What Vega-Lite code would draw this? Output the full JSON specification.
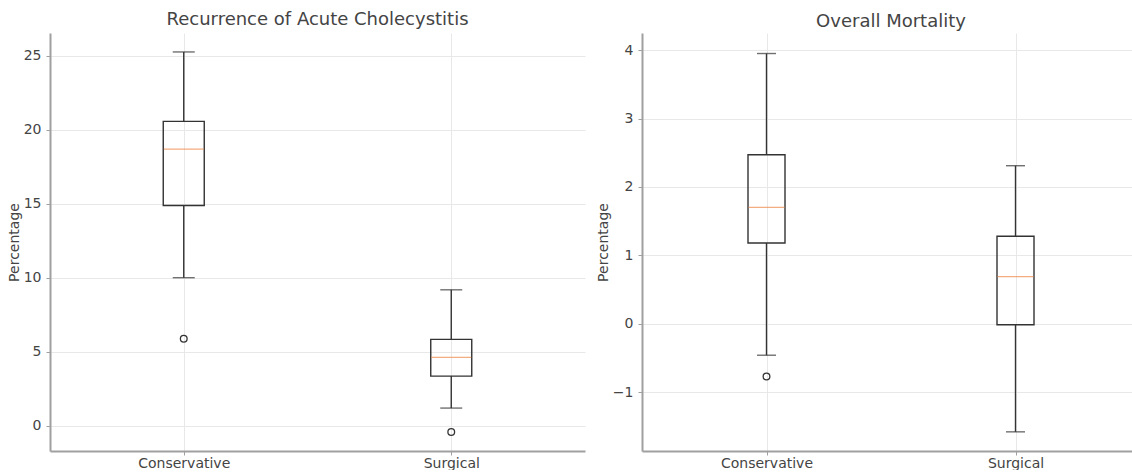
{
  "$schema": "https://vega.github.io/schema/vega-lite/v6.json",
  "padding": {"left": 7, "top": 11, "right": 0, "bottom": 0},
  "background": "white",
  "datasets": {
    "boxes": [
      {"panel": "A", "group": "Conservative", "lower": 10.02, "q1": 14.9, "median": 18.71, "q3": 20.58, "upper": 25.27},
      {"panel": "A", "group": "Surgical", "lower": 1.21, "q1": 3.37, "median": 4.63, "q3": 5.85, "upper": 9.2},
      {"panel": "B", "group": "Conservative", "lower": -0.46, "q1": 1.18, "median": 1.7, "q3": 2.47, "upper": 3.95},
      {"panel": "B", "group": "Surgical", "lower": -1.58, "q1": -0.015, "median": 0.69, "q3": 1.28, "upper": 2.31}
    ],
    "outliers": [
      {"panel": "A", "group": "Conservative", "value": 5.89},
      {"panel": "A", "group": "Surgical", "value": -0.41},
      {"panel": "B", "group": "Conservative", "value": -0.77}
    ]
  },
  "hconcat": [
    {
      "width": 535,
      "height": 418,
      "title": {"text": "Recurrence of Acute Cholecystitis", "offset": 4},
      "data": {"name": "boxes"},
      "transform": [{"filter": "datum.panel === 'A'"}],
      "encoding": {
        "x": {"field": "group", "type": "nominal", "sort": ["Conservative", "Surgical"], "scale": {"type": "point", "padding": 0.5}, "axis": {"title": null, "labelAngle": 0, "grid": true, "labelPadding": 1}}
      },
      "layer": [
        {
          "mark": {"type": "rule", "color": "#333", "strokeWidth": 1.4},
          "encoding": {
            "y": {"field": "lower", "type": "quantitative", "scale": {"domain": [-1.69, 26.55], "nice": false, "zero": false}, "axis": {"title": "Percentage", "values": [0, 5, 10, 15, 20, 25], "format": "d"}},
            "y2": {"field": "q1"}
          }
        },
        {
          "mark": {"type": "rule", "color": "#333", "strokeWidth": 1.4},
          "encoding": {"y": {"field": "q3", "type": "quantitative"}, "y2": {"field": "upper"}}
        },
        {
          "mark": {"type": "tick", "color": "#333", "size": 22, "thickness": 1.4, "orient": "horizontal"},
          "encoding": {"y": {"field": "lower", "type": "quantitative"}}
        },
        {
          "mark": {"type": "tick", "color": "#333", "size": 22, "thickness": 1.4, "orient": "horizontal"},
          "encoding": {"y": {"field": "upper", "type": "quantitative"}}
        },
        {
          "mark": {"type": "bar", "filled": false, "stroke": "#333", "strokeWidth": 1.4, "width": 41},
          "encoding": {"y": {"field": "q1", "type": "quantitative"}, "y2": {"field": "q3"}}
        },
        {
          "mark": {"type": "tick", "color": "#f08a4b", "size": 40, "thickness": 1.3, "orient": "horizontal"},
          "encoding": {"y": {"field": "median", "type": "quantitative"}}
        },
        {
          "data": {"name": "outliers"},
          "transform": [{"filter": "datum.panel === 'A'"}],
          "mark": {"type": "point", "shape": "circle", "filled": false, "stroke": "#333", "strokeWidth": 1.3, "size": 45, "opacity": 1},
          "encoding": {"y": {"field": "value", "type": "quantitative"}}
        }
      ]
    },
    {
      "width": 498,
      "height": 418,
      "title": {"text": "Overall Mortality", "offset": 2},
      "data": {"name": "boxes"},
      "transform": [{"filter": "datum.panel === 'B'"}],
      "encoding": {
        "x": {"field": "group", "type": "nominal", "sort": ["Conservative", "Surgical"], "scale": {"type": "point", "padding": 0.5}, "axis": {"title": null, "labelAngle": 0, "grid": true, "labelPadding": 1}}
      },
      "layer": [
        {
          "mark": {"type": "rule", "color": "#333", "strokeWidth": 1.4},
          "encoding": {
            "y": {"field": "lower", "type": "quantitative", "scale": {"domain": [-1.86, 4.25], "nice": false, "zero": false}, "axis": {"title": "Percentage", "values": [-1, 0, 1, 2, 3, 4], "format": "d"}},
            "y2": {"field": "q1"}
          }
        },
        {
          "mark": {"type": "rule", "color": "#333", "strokeWidth": 1.4},
          "encoding": {"y": {"field": "q3", "type": "quantitative"}, "y2": {"field": "upper"}}
        },
        {
          "mark": {"type": "tick", "color": "#333", "size": 19, "thickness": 1.4, "orient": "horizontal"},
          "encoding": {"y": {"field": "lower", "type": "quantitative"}}
        },
        {
          "mark": {"type": "tick", "color": "#333", "size": 19, "thickness": 1.4, "orient": "horizontal"},
          "encoding": {"y": {"field": "upper", "type": "quantitative"}}
        },
        {
          "mark": {"type": "bar", "filled": false, "stroke": "#333", "strokeWidth": 1.4, "width": 37},
          "encoding": {"y": {"field": "q1", "type": "quantitative"}, "y2": {"field": "q3"}}
        },
        {
          "mark": {"type": "tick", "color": "#f08a4b", "size": 36, "thickness": 1.3, "orient": "horizontal"},
          "encoding": {"y": {"field": "median", "type": "quantitative"}}
        },
        {
          "data": {"name": "outliers"},
          "transform": [{"filter": "datum.panel === 'B'"}],
          "mark": {"type": "point", "shape": "circle", "filled": false, "stroke": "#333", "strokeWidth": 1.3, "size": 45, "opacity": 1},
          "encoding": {"y": {"field": "value", "type": "quantitative"}}
        }
      ]
    }
  ],
  "spacing": 57,
  "bounds": "flush",
  "config": {
    "font": "DejaVu Sans",
    "view": {"stroke": null},
    "axis": {
      "domainColor": "#a0a0a0",
      "domainWidth": 2,
      "gridColor": "#e8e8e8",
      "gridWidth": 1,
      "tickColor": "#a0a0a0",
      "tickSize": 4,
      "labelFontSize": 14,
      "labelColor": "#444",
      "labelPadding": 5,
      "titleFontSize": 14,
      "titleFontWeight": "normal",
      "titleColor": "#444",
      "titlePadding": 2
    },
    "title": {"fontSize": 18, "fontWeight": "normal", "color": "#444"}
  }
}
